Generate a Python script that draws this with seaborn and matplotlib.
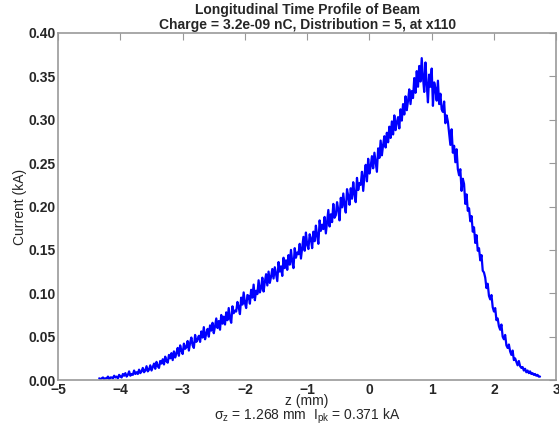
import numpy as np
import pandas as pd
import matplotlib
matplotlib.use("Agg")
import matplotlib.pyplot as plt
import seaborn as sns
from matplotlib.ticker import FormatStrFormatter

# ---- data ----
z_start, z_end = -4.34, 2.74
current = [
    0.002, 0.001, 0.002, 0.003, 0.001, 0.002, 0.002, 0.004, 0.001, 0.003,
    0.003, 0.002, 0.005, 0.003, 0.004, 0.002, 0.006, 0.004, 0.003, 0.007,
    0.005, 0.008, 0.004, 0.006, 0.010, 0.005, 0.007, 0.006, 0.011, 0.007,
    0.009, 0.007, 0.012, 0.008, 0.010, 0.014, 0.009, 0.011, 0.016, 0.010,
    0.012, 0.017, 0.011, 0.015, 0.019, 0.013, 0.021, 0.016, 0.014, 0.022,
    0.019, 0.024, 0.018, 0.027, 0.022, 0.020, 0.029, 0.025, 0.031, 0.023,
    0.033, 0.026, 0.031, 0.037, 0.028, 0.040, 0.034, 0.030, 0.042, 0.036,
    0.038, 0.045, 0.034, 0.043, 0.049, 0.040, 0.037, 0.052, 0.044, 0.047,
    0.051, 0.044, 0.056, 0.049, 0.061, 0.047, 0.054, 0.059, 0.050, 0.063,
    0.057, 0.066, 0.054, 0.062, 0.071, 0.060, 0.068, 0.058, 0.075, 0.065,
    0.073, 0.064, 0.078, 0.069, 0.083, 0.071, 0.066, 0.085, 0.077, 0.080,
    0.079, 0.090, 0.084, 0.076, 0.095, 0.087, 0.101, 0.089, 0.083, 0.098,
    0.097, 0.088, 0.104, 0.095, 0.110, 0.092, 0.103, 0.099, 0.115, 0.101,
    0.106, 0.118, 0.102, 0.113, 0.122, 0.109, 0.125, 0.112, 0.119, 0.128,
    0.117, 0.130, 0.122, 0.114, 0.136, 0.125, 0.131, 0.120, 0.141, 0.129,
    0.138, 0.127, 0.144, 0.133, 0.150, 0.136, 0.129, 0.152, 0.141, 0.147,
    0.145, 0.157, 0.140, 0.153, 0.165, 0.149, 0.170, 0.156, 0.151, 0.168,
    0.163, 0.152, 0.171, 0.160, 0.178, 0.166, 0.157, 0.184, 0.172, 0.179,
    0.174, 0.188, 0.169, 0.183, 0.196, 0.177, 0.191, 0.182, 0.203, 0.187,
    0.190, 0.205, 0.196, 0.184, 0.210, 0.199, 0.215, 0.201, 0.193, 0.220,
    0.212, 0.202, 0.221, 0.209, 0.228, 0.214, 0.205, 0.233, 0.219, 0.227,
    0.225, 0.240, 0.218, 0.236, 0.248, 0.229, 0.255, 0.238, 0.246, 0.258,
    0.244, 0.262, 0.251, 0.240, 0.267, 0.256, 0.276, 0.259, 0.271, 0.281,
    0.268, 0.285, 0.274, 0.292, 0.279, 0.298, 0.283, 0.305, 0.288, 0.297,
    0.303, 0.290, 0.312, 0.299, 0.318, 0.306, 0.327, 0.311, 0.322, 0.335,
    0.318, 0.333, 0.325, 0.348, 0.331, 0.356, 0.338, 0.362, 0.344, 0.371,
    0.349, 0.332, 0.366, 0.341, 0.320, 0.352, 0.338, 0.359, 0.316, 0.343,
    0.336, 0.322, 0.345, 0.318, 0.330, 0.312, 0.309, 0.321, 0.296, 0.305,
    0.298, 0.284, 0.271, 0.289, 0.262, 0.270, 0.251, 0.266, 0.243, 0.236,
    0.243, 0.218, 0.232, 0.226, 0.203, 0.214, 0.195, 0.198, 0.183, 0.189,
    0.171, 0.176, 0.158, 0.167, 0.149, 0.152, 0.138, 0.144, 0.126, 0.124,
    0.118, 0.106, 0.111, 0.097, 0.093, 0.098, 0.084, 0.079, 0.083, 0.069,
    0.071, 0.062, 0.058, 0.064, 0.050, 0.047, 0.052, 0.040, 0.037, 0.041,
    0.033, 0.029, 0.034, 0.023, 0.025, 0.021, 0.017, 0.022, 0.016, 0.014,
    0.015, 0.011, 0.013, 0.009, 0.011, 0.008, 0.010, 0.007, 0.008, 0.006,
    0.007, 0.005, 0.006, 0.004, 0.004,
]
x_ticks = [-5, -4, -3, -2, -1, 0, 1, 2, 3]
y_ticks = [0.00, 0.05, 0.10, 0.15, 0.20, 0.25, 0.30, 0.35, 0.40]

title = "Longitudinal Time Profile of Beam\nCharge = 3.2e-09 nC, Distribution = 5, at x110"
xlabel = "z (mm)"
stats_text = "$\\mathregular{\\sigma_z}$ = 1.268 mm  $\\mathregular{I_{pk}}$ = 0.371 kA"
ylabel = "Current (kA)"

z = np.linspace(z_start, z_end, len(current))
df = pd.DataFrame({"z": z, "current": current})

sns.set_style("white")
plt.rcParams["font.family"] = ["Liberation Sans", "DejaVu Sans"]
plt.rcParams["mathtext.fontset"] = "custom"
plt.rcParams["mathtext.rm"] = "Liberation Sans"
plt.rcParams["mathtext.it"] = "Liberation Sans"

fig = plt.figure(figsize=(5.59, 4.28), dpi=100)
ax = fig.add_axes([0.104, 0.112, 0.891, 0.811])

sns.lineplot(data=df, x="z", y="current", ax=ax, color="#0000ff",
             linewidth=1.6, estimator=None, sort=False)

ax.set_xlim(-5, 3)
ax.set_ylim(0, 0.40)
ax.set_xticks(x_ticks)
ax.set_yticks(y_ticks)
ax.yaxis.set_major_formatter(FormatStrFormatter("%.2f"))
ax.tick_params(direction="in", length=5, width=0.8, color="#999999",
               top=True, right=True, labelsize=10, pad=2)
for lab in ax.get_xticklabels() + ax.get_yticklabels():
    lab.set_fontweight("bold")
for sp in ax.spines.values():
    sp.set_color("#999999")
    sp.set_linewidth(1.2)

ax.set_title(title, fontsize=10, fontweight="bold", pad=3, linespacing=1.1)
ax.set_xlabel(xlabel, fontsize=10)
ax.xaxis.set_label_coords(0.5, -0.041)
ax.text(0.5, -0.077, stats_text, transform=ax.transAxes, ha="center",
        va="top", fontsize=10)
ax.set_ylabel(ylabel, fontsize=10)
ax.yaxis.set_label_coords(-0.062, 0.5)

fig.savefig("out.png", dpi=100)
